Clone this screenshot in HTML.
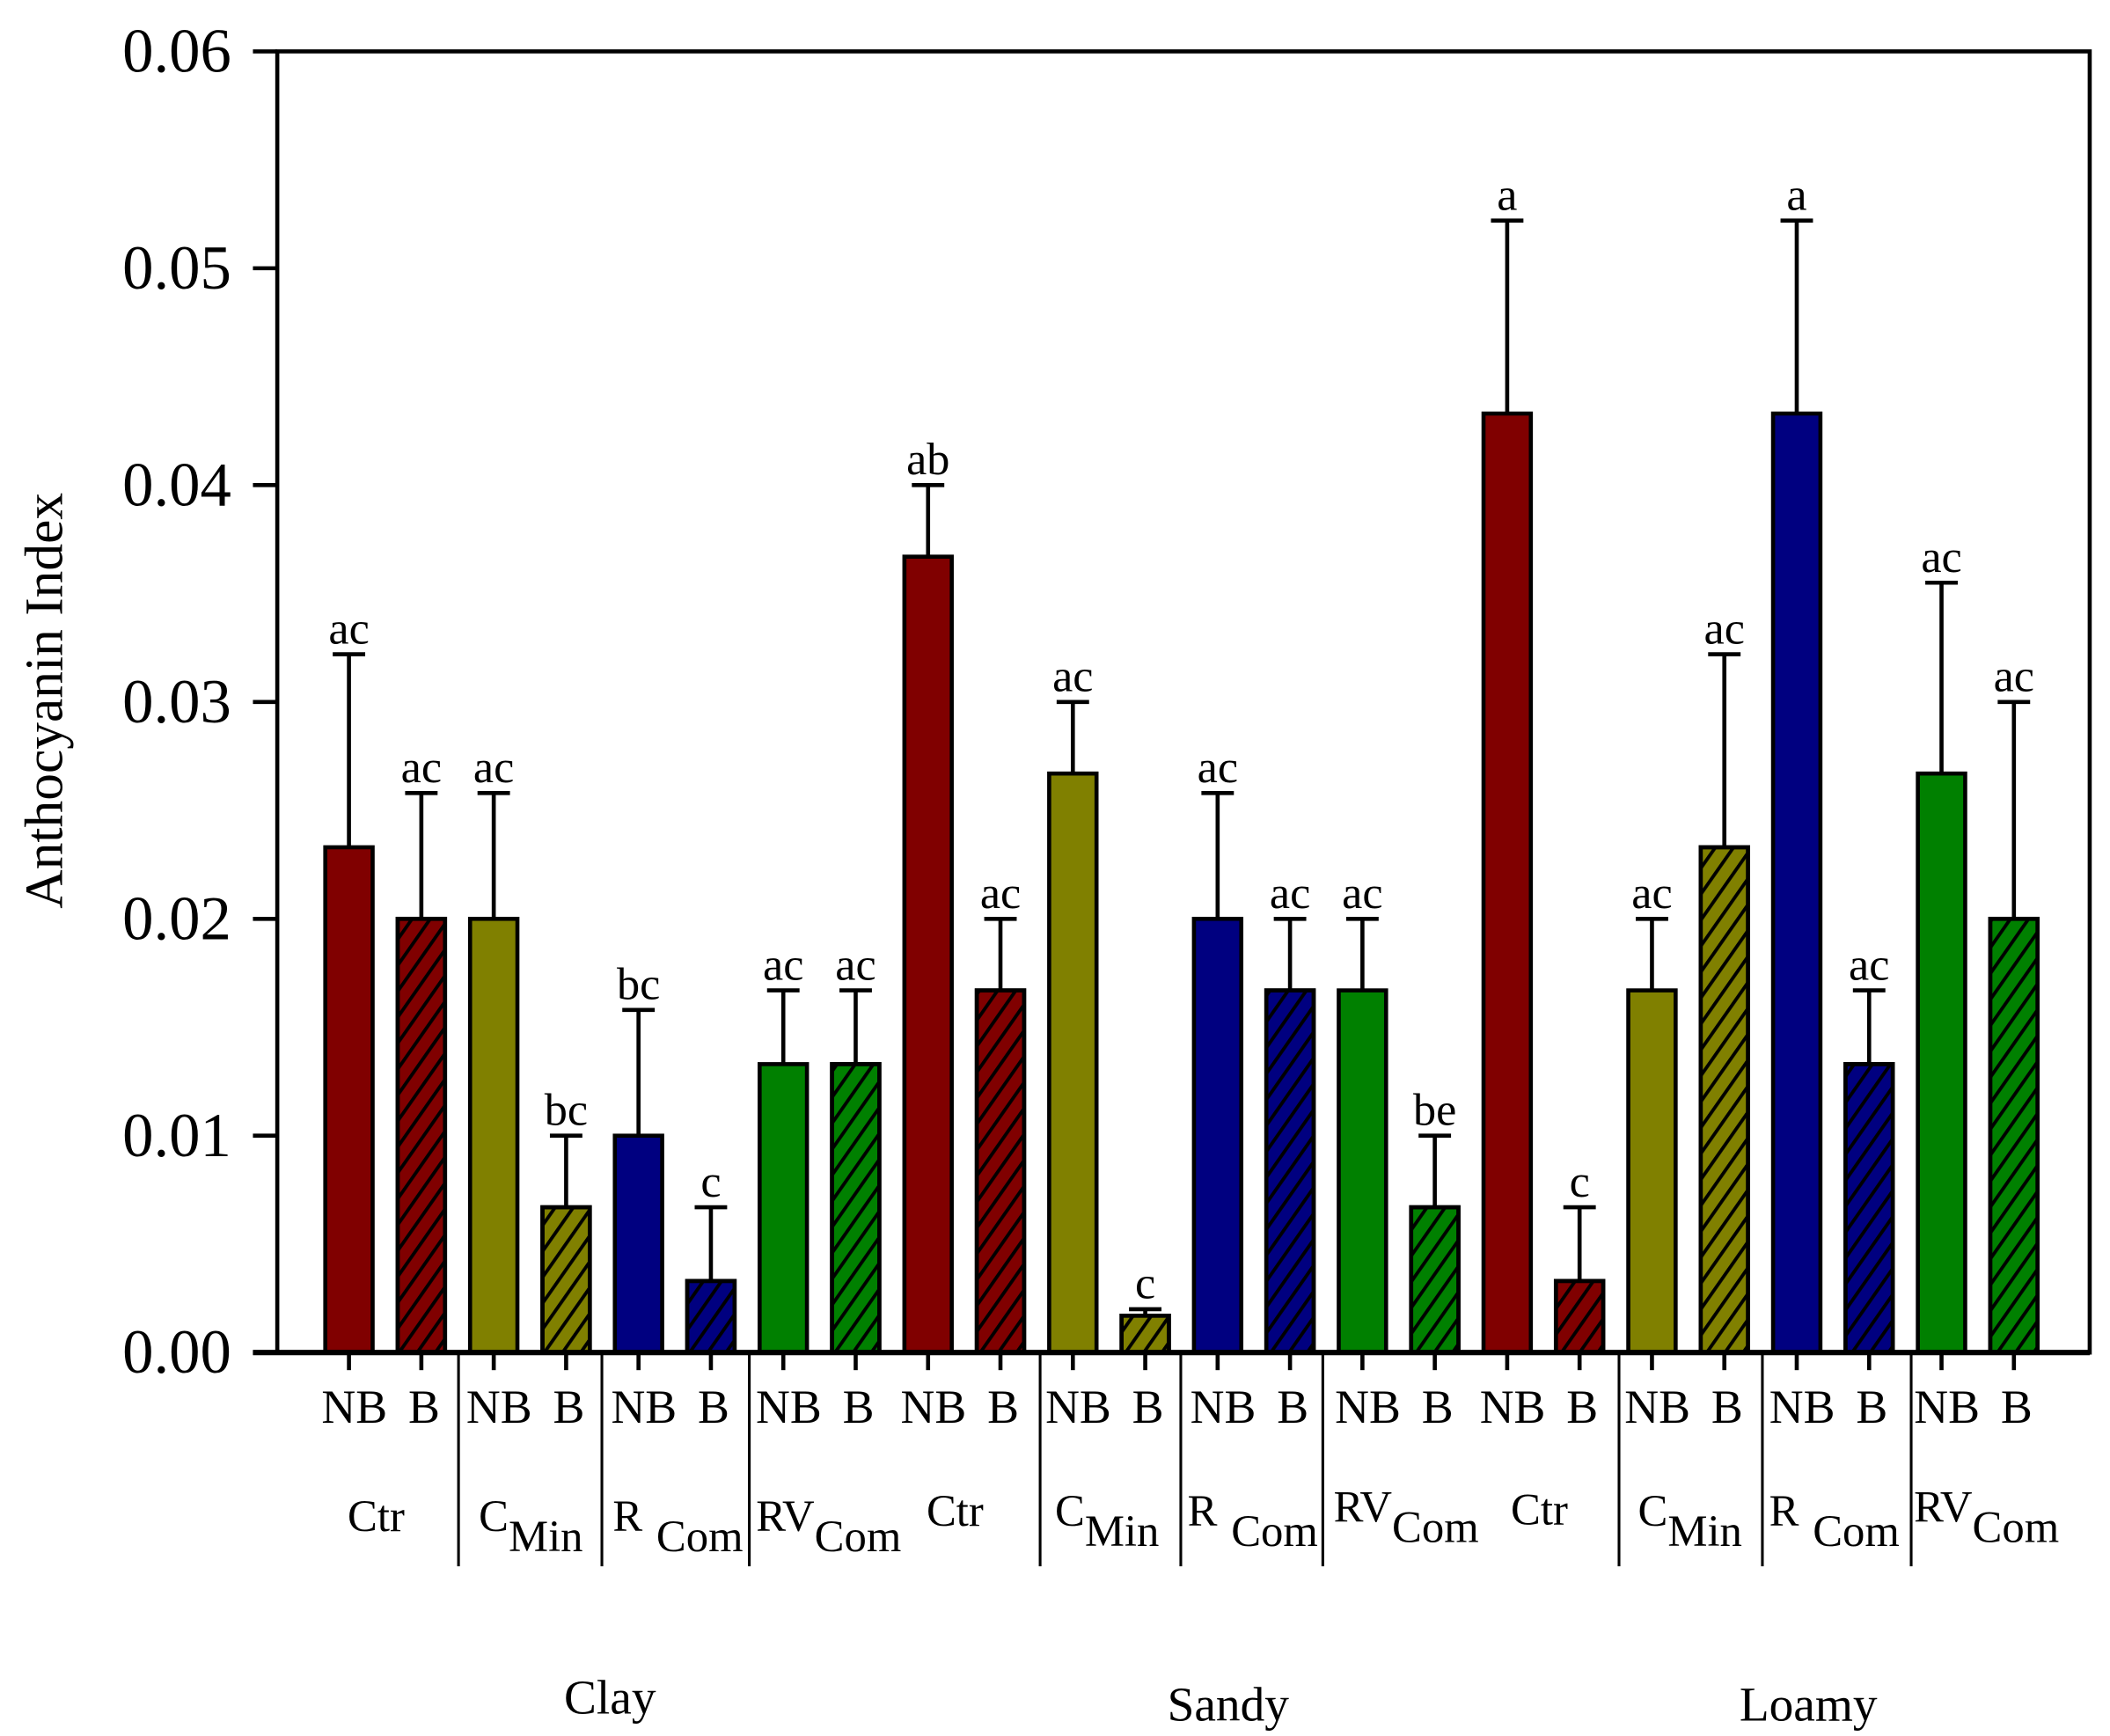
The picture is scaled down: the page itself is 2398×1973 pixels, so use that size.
<!DOCTYPE html>
<html><head><meta charset="utf-8"><style>
html,body{margin:0;padding:0;background:#fff}
svg{display:block}
text{font-family:"Liberation Serif",serif;fill:#000}
</style></head><body>
<svg width="2398" height="1973" viewBox="0 0 1560 1283.5" preserveAspectRatio="none" xmlns="http://www.w3.org/2000/svg">
<defs>
<pattern id="hatch" patternUnits="userSpaceOnUse" width="11" height="11" patternTransform="rotate(35)">
<rect width="11" height="11" fill="none"/><line x1="0" y1="0" x2="0" y2="11" stroke="#000" stroke-width="5"/>
</pattern>
</defs>
<g id="plot"></g>
</svg>
<script>
const categories=["Ctr NB","Ctr B","CMin NB","CMin B","RCom NB","RCom B","RVCom NB","RVCom B","Ctr NB","Ctr B","CMin NB","CMin B","RCom NB","RCom B","RVCom NB","RVCom B","Ctr NB","Ctr B","CMin NB","CMin B","RCom NB","RCom B","RVCom NB","RVCom B"];
const means=[0.0233,0.020,0.020,0.0067,0.010,0.0033,0.0133,0.0133,0.0367,0.0167,0.0267,0.0017,0.020,0.0167,0.0167,0.0067,0.0433,0.0033,0.0167,0.0233,0.0433,0.0133,0.0267,0.020];
const errTops=[0.0322,0.0258,0.0258,0.010,0.0158,0.0067,0.0167,0.0167,0.040,0.020,0.030,0.0020,0.0258,0.020,0.020,0.010,0.0522,0.0067,0.020,0.0322,0.0522,0.0167,0.0355,0.030];
const letters=["ac","ac","ac","bc","bc","c","ac","ac","ab","ac","ac","c","ac","ac","ac","be","a","c","ac","ac","a","ac","ac","ac"];
const yTicks=[0,0.01,0.02,0.03,0.04,0.05,0.06];
const yTickLabels=["0.00","0.01","0.02","0.03","0.04","0.05","0.06"];
const colors=["#800000","#800000","#808000","#808000","#000080","#000080","#008000","#008000"];
const NS="http://www.w3.org/2000/svg";
const g=document.getElementById('plot');
const L=205,R=1545,T=38,B=1000;
const y=v=>B-(v/0.06)*(B-T);
const x=i=>258+i*53.52;
const bw=35;
function mk(tag,attrs,parent){const e=document.createElementNS(NS,tag);for(const k in attrs)e.setAttribute(k,attrs[k]);(parent||g).appendChild(e);return e;}
means.forEach((v,i)=>{
  const col=colors[i%8];const hatched=i%2===1;
  const bx=x(i)-bw/2, by=y(v), bh=B-y(v);
  const r=mk('rect',{x:bx,y:by,width:bw,height:bh,fill:col,stroke:'#000','stroke-width':3});
  
  
  if(hatched){const h=mk('rect',{x:bx,y:by,width:bw,height:bh,fill:'url(#hatch)',stroke:'#000','stroke-width':3});
    
    }
  const e=mk('path',{d:`M${x(i)} ${by}V${y(errTops[i])}M${x(i)-12} ${y(errTops[i])}H${x(i)+12}`,stroke:'#000','stroke-width':3,fill:'none'});
  
  
  const t=mk('text',{x:x(i),y:y(errTops[i])-8,'text-anchor':'middle','font-size':34});
  t.textContent=letters[i];
  
  
  const tk=mk('line',{x1:x(i),x2:x(i),y1:B,y2:B+13,stroke:'#000','stroke-width':3});
  
  
  const lb=mk('text',{x:x(i)+(i%2?2:4),y:1052,'text-anchor':'middle','font-size':35});
  lb.textContent=i%2?'B':'NB';
  
  
});
const fr=mk('rect',{x:L,y:T,width:R-L,height:B-T,fill:'none',stroke:'#000','stroke-width':3});


const ax=mk('line',{x1:L-18,x2:R,y1:B,y2:B,stroke:'#000','stroke-width':4});


yTicks.forEach((v,i)=>{
  const l=mk('line',{x1:L-18,x2:L,y1:y(v),y2:y(v),stroke:'#000','stroke-width':3});
  
  
  const t=mk('text',{x:171,y:y(v)+15,'text-anchor':'end','font-size':46});
  t.textContent=yTickLabels[i];
  
  
});
const yt=mk('text',{x:0,y:0,'text-anchor':'middle','font-size':40,transform:'translate(46,518) rotate(-90)'});
yt.textContent='Anthocyanin Index';


[339,445,554,769,873,978,1197,1303,1413].forEach(sx=>{
  const s=mk('line',{x1:sx,x2:sx,y1:B,y2:1158,stroke:'#000','stroke-width':2});
  
  
});
const treat=[["Ctr","",257,1132],["C","Min",354,1132],["R ","Com",453,1132],["RV","Com",559,1132],["Ctr","",685,1128],["C","Min",780,1128],["R ","Com",878,1128],["RV","Com",986,1125],["Ctr","",1117,1127],["C","Min",1211,1128],["R ","Com",1308,1128],["RV","Com",1415,1125]];
treat.forEach(tr=>{
  const t=mk('text',{x:tr[2],y:tr[3],'font-size':33});
  
  
  const a=mk('tspan',{},t);a.textContent=tr[0];
  if(tr[1]){const b=mk('tspan',{dy:15,dx:tr[0]==='R '?2:0},t);b.textContent=tr[1];}
});
[["Clay",451,1267],["Sandy",908,1272],["Loamy",1337,1272]].forEach(s=>{
  const t=mk('text',{x:s[1],y:s[2],'text-anchor':'middle','font-size':36});
  t.textContent=s[0];
  
  
});
</script>
</body></html>
